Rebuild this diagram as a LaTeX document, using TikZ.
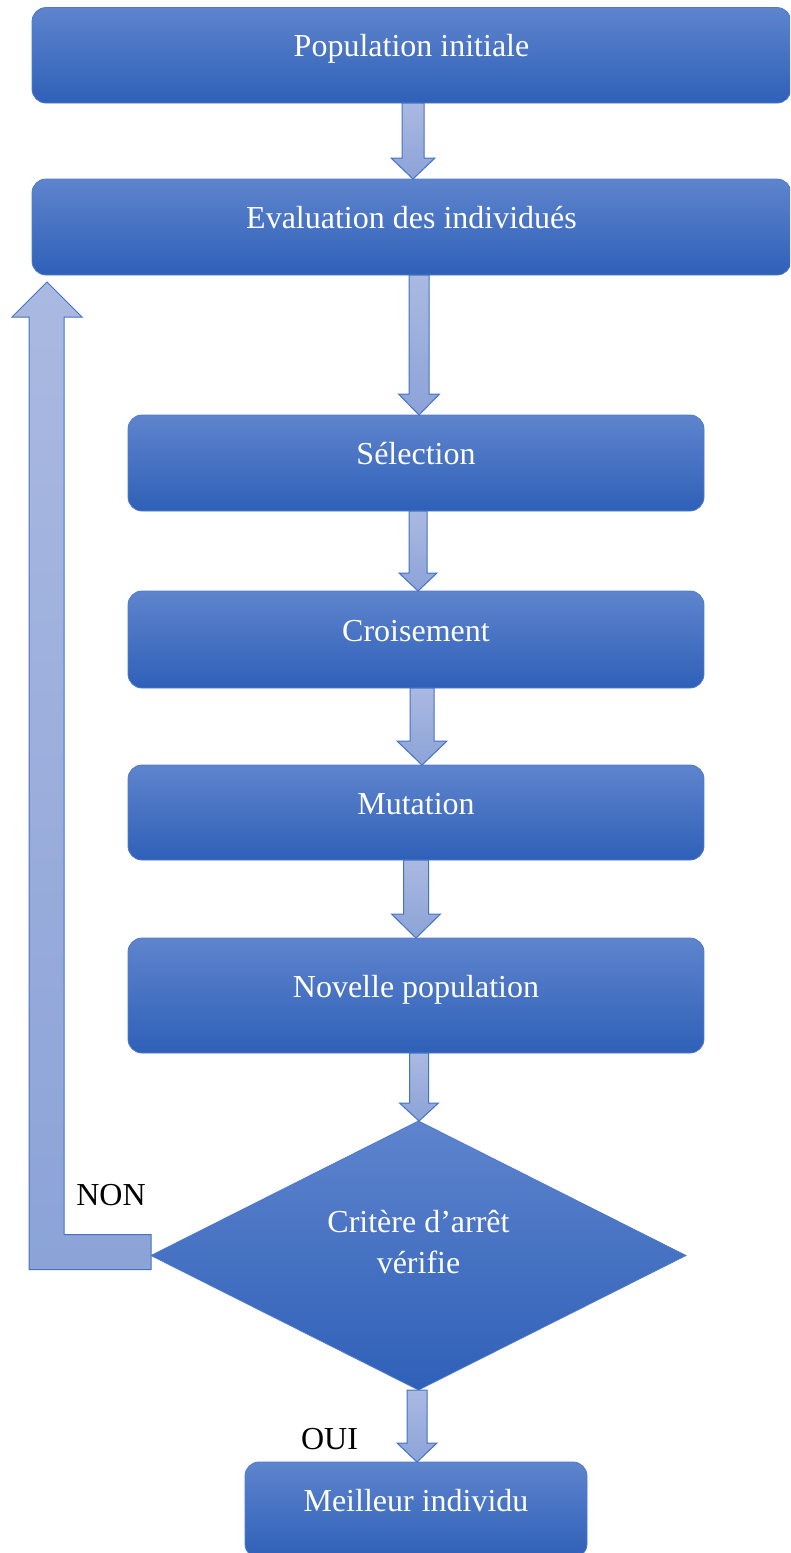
\documentclass[tikz,border=0pt]{standalone}
\usepackage{fontspec}
\setmainfont{Liberation Serif}
\usetikzlibrary{shapes.geometric,calc}

\definecolor{boxtop}{HTML}{5E84CD}
\definecolor{boxmid}{HTML}{4572C6}
\definecolor{boxbot}{HTML}{2F60B8}
\definecolor{boxline}{HTML}{4F7ACB}
\definecolor{arrowtop}{HTML}{AAB9E1}
\definecolor{arrowbot}{HTML}{8CA3D8}
\definecolor{arrowline}{HTML}{4472C4}

\tikzset{
  bigfont/.style={font=\fontsize{32}{41}\selectfont},
  stepbox/.style={rectangle, rounded corners=14pt, draw=boxline, line width=0.8pt,
    top color=boxtop, middle color=boxmid, bottom color=boxbot,
    text=white, bigfont, inner sep=0pt, outer sep=0pt,
    text height=22pt, text depth=19pt},
  decision/.style={diamond, draw=boxline, line width=0.8pt,
    top color=boxtop, middle color=boxmid, bottom color=boxbot,
    inner sep=0pt, outer sep=0pt},
  crittext/.style={text=white, bigfont, align=center, inner sep=0pt},
  flowarrow/.style={draw=arrowline, line width=1pt, line join=miter,
    top color=arrowtop, bottom color=arrowbot},
  answer/.style={bigfont, text=black, inner sep=0pt, anchor=base},
}

% block arrow from the bottom of #1 to the top of #2
% #3 centre x, #4 half shaft width, #5 half head width, #6 head length
\newcommand\flowdown[6]{%
  \path[flowarrow] let \p1=(#1.south), \p2=(#2.north) in
    (#3pt-#4pt,\y1) -- (#3pt+#4pt,\y1) -- (#3pt+#4pt,\y2+#6pt)
    -- (#3pt+#5pt,\y2+#6pt) -- (#3pt,\y2) -- (#3pt-#5pt,\y2+#6pt)
    -- (#3pt-#4pt,\y2+#6pt) -- cycle;
}

\begin{document}
\begin{tikzpicture}[x=1pt,y=-1pt]
\useasboundingbox (0,0) rectangle (790,1553);
\clip (0,0) rectangle (790,1553);

% steps of the algorithm
\node[stepbox, minimum width=759pt, minimum height=95.5pt] (init) at (411.5,55.3) {Population initiale};
\node[stepbox, minimum width=759pt, minimum height=96pt] (eval) at (411.5,227) {Evaluation des individués};
\node[stepbox, minimum width=576pt, minimum height=96pt] (sel) at (416,463) {Sélection};
\node[stepbox, minimum width=576pt, minimum height=97pt] (cro) at (416,639.5) {Croisement};
\node[stepbox, minimum width=576pt, minimum height=95pt] (mut) at (416,812.5) {Mutation};
\node[stepbox, minimum width=576pt, minimum height=115pt] (nov) at (416,995.5) {Novelle population};
\node[decision, minimum width=535pt, minimum height=269pt,
      label={[crittext, yshift=13pt]center:Critère d’arrêt\\vérifie}] (crit) at (418.5,1255.5) {};
\node[stepbox, minimum width=342pt, minimum height=96pt] (best) at (416,1510) {Meilleur individu};

% forward arrows
\flowdown{init}{eval}{413}{11}{22}{21}
\flowdown{eval}{sel}{419}{10}{20.5}{21}
\flowdown{sel}{cro}{418}{9}{19}{18}
\flowdown{cro}{mut}{422}{12}{25}{24}
\flowdown{mut}{nov}{416}{12.5}{24.5}{24}
\flowdown{nov}{crit}{419}{9.5}{19.5}{18}
\flowdown{crit}{best}{417}{10}{20}{19}

% loop back when the stopping criterion fails
\path[flowarrow]
  ($(crit.west)+(0,-21)$) -| ($(eval.south west)+(32,42)$) -- ++(18,0)
  -- ($(eval.south west)+(15,7)$) -- ++(-35,35) -- ++(17,0)
  |- ($(crit.west)+(0,14)$) -- cycle;

% branch labels
\node[answer] (non) at (111,1205) {NON};
\node[answer] (oui) at (329.5,1449) {OUI};
\end{tikzpicture}
\end{document}
